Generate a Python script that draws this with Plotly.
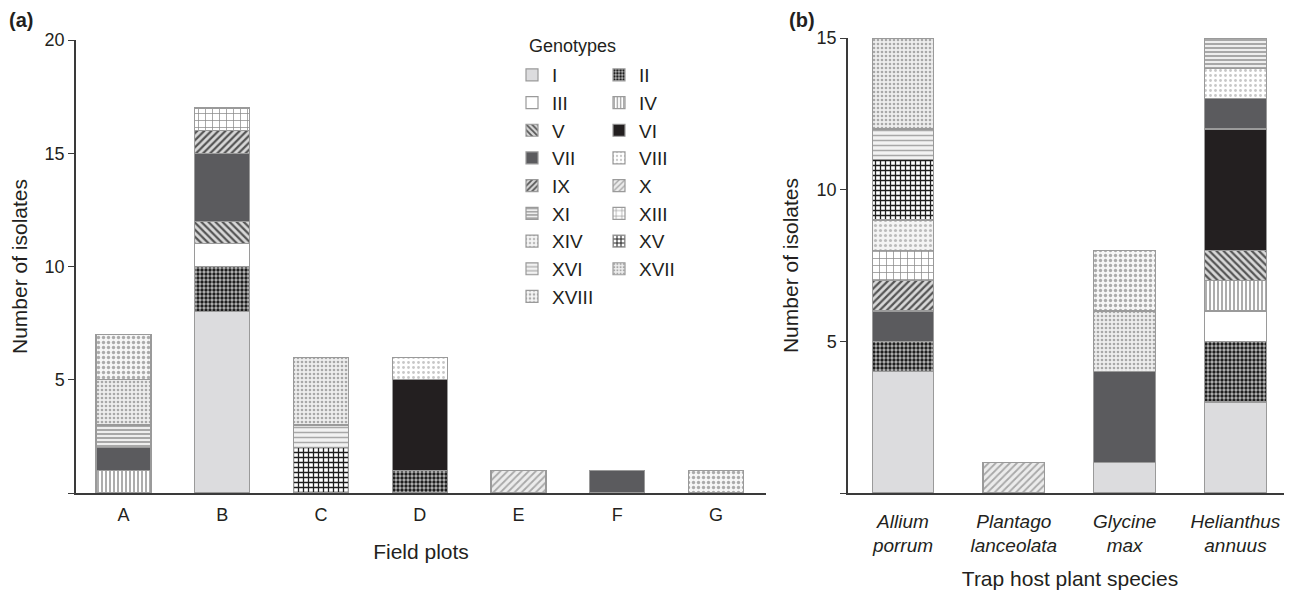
import plotly.graph_objects as go

# ---------------- data ----------------
field_plots = ["A", "B", "C", "D", "E", "F", "G"]
host_species = ["<i>Allium<br>porrum</i>", "<i>Plantago<br>lanceolata</i>",
                "<i>Glycine<br>max</i>", "<i>Helianthus<br>annuus</i>"]
genotypes = ["I", "II", "III", "IV", "V", "VI", "VII", "VIII", "IX", "X",
             "XI", "XIII", "XIV", "XV", "XVI", "XVII", "XVIII"]

# counts per genotype for field plots A..G
field_counts = {
    "I":     [0, 8, 0, 0, 0, 0, 0],
    "II":    [0, 2, 0, 1, 0, 0, 0],
    "III":   [0, 1, 0, 0, 0, 0, 0],
    "IV":    [1, 0, 0, 0, 0, 0, 0],
    "V":     [0, 1, 0, 0, 0, 0, 0],
    "VI":    [0, 0, 0, 4, 0, 0, 0],
    "VII":   [1, 3, 0, 0, 0, 1, 0],
    "VIII":  [0, 0, 0, 1, 0, 0, 0],
    "IX":    [0, 1, 0, 0, 0, 0, 0],
    "X":     [0, 0, 0, 0, 1, 0, 0],
    "XI":    [1, 0, 0, 0, 0, 0, 0],
    "XIII":  [0, 1, 0, 0, 0, 0, 0],
    "XIV":   [0, 0, 0, 0, 0, 0, 0],
    "XV":    [0, 0, 2, 0, 0, 0, 0],
    "XVI":   [0, 0, 1, 0, 0, 0, 0],
    "XVII":  [2, 0, 3, 0, 0, 0, 0],
    "XVIII": [2, 0, 0, 0, 0, 0, 1],
}

# counts per genotype for trap host plants
host_counts = {
    "I":     [4, 0, 1, 3],
    "II":    [1, 0, 0, 2],
    "III":   [0, 0, 0, 1],
    "IV":    [0, 0, 0, 1],
    "V":     [0, 0, 0, 1],
    "VI":    [0, 0, 0, 4],
    "VII":   [1, 0, 3, 1],
    "VIII":  [0, 0, 0, 1],
    "IX":    [1, 0, 0, 0],
    "X":     [0, 1, 0, 0],
    "XI":    [0, 0, 0, 1],
    "XIII":  [1, 0, 0, 0],
    "XIV":   [1, 0, 0, 0],
    "XV":    [2, 0, 0, 0],
    "XVI":   [1, 0, 0, 0],
    "XVII":  [3, 0, 2, 0],
    "XVIII": [0, 0, 2, 0],
}

# ---------------- styles ----------------
styles = {
    "I":     dict(color="#dcdcde"),
    "II":    dict(color="#b8b8b8", shape=".", fg="#1e1e1e", size=4, sol=0.55),
    "III":   dict(color="#ffffff"),
    "IV":    dict(color="#ffffff", shape="|", fg="#8a8a8a", size=4, sol=0.35),
    "V":     dict(color="#d8d8d8", shape="\\", fg="#555555", size=5, sol=0.45),
    "VI":    dict(color="#231f20"),
    "VII":   dict(color="#5b5b5e"),
    "VIII":  dict(color="#ffffff", shape=".", fg="#c8c8c8", size=5, sol=0.25),
    "IX":    dict(color="#d8d8d8", shape="/", fg="#555555", size=5, sol=0.45),
    "X":     dict(color="#ececec", shape="/", fg="#a8a8a8", size=5, sol=0.35),
    "XI":    dict(color="#eeeeee", shape="-", fg="#8a8a8a", size=4, sol=0.35),
    "XIII":  dict(color="#ffffff", shape="+", fg="#8a8a8a", size=7, sol=0.2),
    "XIV":   dict(color="#f4f4f4", shape=".", fg="#bcbcbc", size=5, sol=0.3),
    "XV":    dict(color="#ffffff", shape="+", fg="#1e1e1e", size=5, sol=0.45),
    "XVI":   dict(color="#f2f2f2", shape="-", fg="#a8a8a8", size=5, sol=0.3),
    "XVII":  dict(color="#eeeeee", shape=".", fg="#a8a8a8", size=4, sol=0.35),
    "XVIII": dict(color="#f6f6f6", shape=".", fg="#ababab", size=5, sol=0.35),
}

# page body has an 8px margin: figure is placed at (8, 8) in the window
OFF = 8
W, H = 1292 - OFF, 592 - OFF
FONT = "Liberation Sans, Arial, sans-serif"
TXT = "#231f20"


def fx(px):
    return (px - OFF) / W


def fy(py):
    return 1 - (py - OFF) / H


fig = go.Figure()


def marker_for(g):
    s = styles[g]
    m = dict(color=s["color"], line=dict(color="#9a9a9a", width=1.2))
    if "shape" in s:
        m["pattern"] = dict(shape=s["shape"], fgcolor=s["fg"], bgcolor=s["color"],
                            size=s["size"], solidity=s["sol"], fillmode="replace")
    return m


for i, g in enumerate(genotypes):
    ya = [v if v else None for v in field_counts[g]]
    fig.add_trace(go.Bar(
        x=field_plots, y=ya, name=g, marker=marker_for(g),
        legend="legend" if i % 2 == 0 else "legend2",
        legendgroup=g, showlegend=True, xaxis="x", yaxis="y",
    ))
for g in genotypes:
    yb = [v if v else None for v in host_counts[g]]
    fig.add_trace(go.Bar(
        x=host_species, y=yb, name=g, marker=marker_for(g),
        legendgroup=g, showlegend=False, xaxis="x2", yaxis="y2",
    ))

axis_common = dict(showline=True, linecolor="#3a3a3a", linewidth=1.5,
                   showgrid=False, zeroline=False, automargin=False)
tick_font = dict(family=FONT, size=18, color=TXT)
title_font = dict(size=21, family=FONT, color=TXT)

fig.update_layout(
    width=W, height=H,
    barmode="stack",
    bargap=0.443,
    paper_bgcolor="white", plot_bgcolor="white",
    margin=dict(l=0, r=0, t=0, b=0),
    font=dict(family=FONT, color=TXT),
    xaxis=dict(domain=[fx(76), fx(766)], range=[-0.48, 6.506],
               ticks="outside", ticklen=5, tickcolor="rgba(0,0,0,0)",
               tickfont=tick_font,
               title=dict(text="Field plots", font=title_font, standoff=20),
               anchor="y", **axis_common),
    yaxis=dict(domain=[fy(493), fy(40)], range=[0, 20],
               tickvals=[0, 5, 10, 15, 20], ticktext=["", "5", "10", "15", "20"],
               ticks="outside", ticklen=6, tickcolor="#3a3a3a", tickwidth=1.2,
               tickfont=tick_font,
               title=dict(text="Number of isolates", font=title_font, standoff=11),
               anchor="x", **axis_common),
    xaxis2=dict(domain=[fx(848), 1.0], range=[-0.496, 3.51],
                ticks="outside", ticklen=10, tickcolor="rgba(0,0,0,0)",
                tickfont=dict(family=FONT, size=19, color=TXT),
                title=dict(text="Trap host plant species", font=title_font, standoff=16),
                anchor="y2", **axis_common),
    yaxis2=dict(domain=[fy(493), fy(38)], range=[0, 15],
                tickvals=[0, 5, 10, 15], ticktext=["", "5", "10", "15"],
                ticks="outside", ticklen=6, tickcolor="#3a3a3a", tickwidth=1.2,
                tickfont=tick_font,
                title=dict(text="Number of isolates", font=title_font, standoff=12),
                anchor="x2", **axis_common),
    legend=dict(x=fx(512), y=fy(56), xanchor="left", yanchor="top",
                font=dict(size=19, family=FONT, color=TXT),
                bgcolor="rgba(0,0,0,0)", tracegroupgap=0, itemwidth=30,
                traceorder="normal"),
    legend2=dict(x=fx(599), y=fy(56), xanchor="left", yanchor="top",
                 font=dict(size=19, family=FONT, color=TXT),
                 bgcolor="rgba(0,0,0,0)", tracegroupgap=0, itemwidth=30,
                 traceorder="normal"),
    annotations=[
        dict(text="Genotypes", x=fx(527), y=fy(46), xref="paper", yref="paper",
             xanchor="left", yanchor="middle", showarrow=False,
             font=dict(size=18, family=FONT, color=TXT)),
        dict(text="<b>(a)</b>", x=0, y=1, xref="paper", yref="paper",
             xanchor="left", yanchor="top", showarrow=False, borderpad=0,
             font=dict(size=20, family=FONT, color=TXT)),
        dict(text="<b>(b)</b>", x=fx(788), y=1, xref="paper", yref="paper",
             xanchor="left", yanchor="top", showarrow=False, borderpad=0,
             font=dict(size=20, family=FONT, color=TXT)),
    ],
)

fig.write_html("out.html")
